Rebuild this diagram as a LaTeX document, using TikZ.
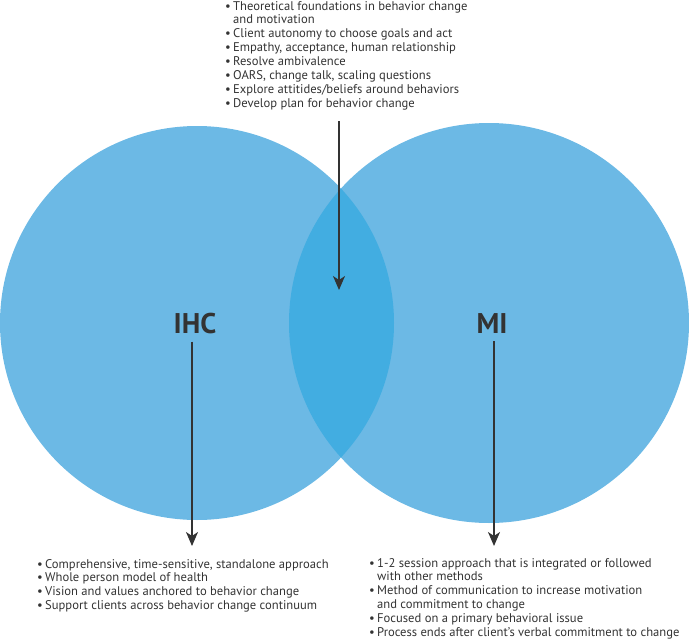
\documentclass[tikz,border=0pt]{standalone}
\usepackage{fontspec}
\setmainfont{PT Sans}
\usetikzlibrary{arrows.meta}
\definecolor{circ}{HTML}{6CB9E5}
\definecolor{lens}{HTML}{42ADE1}
\definecolor{ink}{HTML}{333333}
\newcommand\bl{\makebox[8pt][l]{•}}
\newcommand\ind{\hspace*{8pt}}
\begin{document}
\begin{tikzpicture}[x=1pt,y=-1pt,
  conn/.style={draw=ink, line width=1.5pt, -{Stealth[length=14pt,width=12pt,inset=4pt]}},
  biglabel/.style={font=\fontsize{28.5}{30}\selectfont\bfseries, text=ink, inner sep=0pt, anchor=base},
  blist/.style={font=\fontsize{12.6}{13.9}\selectfont, text=ink, inner sep=0pt, anchor=base west}]
\useasboundingbox (0,0) rectangle (689,640);
\fill[circ] (197,323) circle[radius=197pt];
\fill[circ] (489,323) circle[radius=200pt];
\begin{scope}
  \clip (197,323) circle[radius=197pt];
  \fill[lens] (489,323) circle[radius=200pt];
\end{scope}
\node[biglabel] (ihc) at (195,333) {IHC};
\node[biglabel] (mi) at (492,333) {MI};
\node[blist] (toplist) at (225,10) {\begin{tabular}[t]{@{}l@{}}
\bl Theoretical foundations in behavior change\\
\ind and motivation\\
\bl Client autonomy to choose goals and act\\
\bl Empathy, acceptance, human relationship\\
\bl Resolve ambivalence\\
\bl OARS, change talk, scaling questions\\
\bl Explore attitides/beliefs around behaviors\\
\bl Develop plan for behavior change
\end{tabular}};
\node[blist] (ihclist) at (37,568) {\begin{tabular}[t]{@{}l@{}}
\bl Comprehensive, time-sensitive, standalone approach\\
\bl Whole person model of health\\
\bl Vision and values anchored to behavior change\\
\bl Support clients across behavior change continuum
\end{tabular}};
\node[blist] (milist) at (369,567) {\begin{tabular}[t]{@{}l@{}}
\bl 1-2 session approach that is integrated or followed\\
\ind with other methods\\
\bl Method of communication to increase motivation\\
\ind and commitment to change\\
\bl Focused on a primary behavioral issue\\
\bl Process ends after client’s verbal commitment to change
\end{tabular}};
\coordinate (topStart) at (339,121);
\coordinate (topEnd) at (339,290);
\coordinate (ihcEnd) at (192,546);
\coordinate (miEnd) at (494,546);
\draw[conn] (topStart) -- (topEnd);
\draw[conn, shorten <=8pt] (ihc.south -| ihcEnd) -- (ihcEnd);
\draw[conn, shorten <=8pt] (mi.south -| miEnd) -- (miEnd);
\end{tikzpicture}
\end{document}
